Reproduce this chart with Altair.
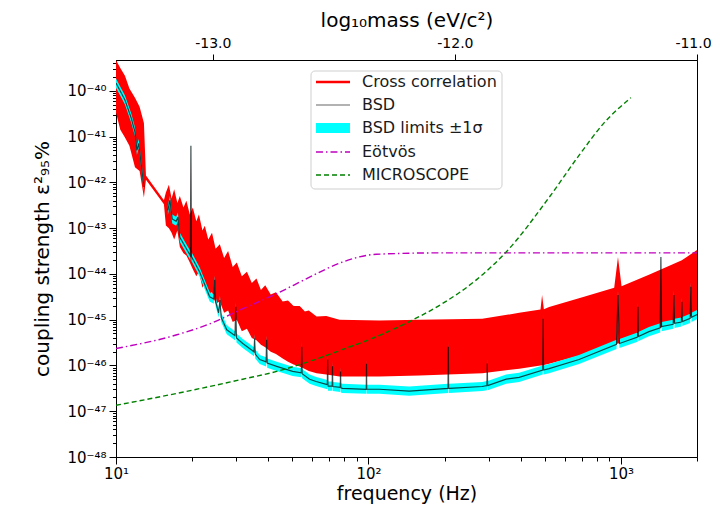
import altair as alt
import pandas as pd
import numpy as np

# ---------------- data ----------------
# Cross-correlation limit: envelope of the rapidly oscillating curve (log10 of eps^2)
red_freq = [10.0, 10.4, 10.85, 11.3, 11.89, 12.4, 12.9, 13.14, 15.48, 15.76, 16.2, 16.6, 17.0,
            17.5, 17.9, 18.5, 19.0, 19.6, 20.15, 20.8, 21.3, 22.0, 22.47, 23.2, 24.0, 24.8,
            25.77, 26.8, 27.8, 29.0, 30.09, 31.5, 33.0, 34.5, 36.0, 37.5, 39.0, 41.0, 43.0,
            45.72, 48.0, 50.5, 53.38, 56.0, 58.0, 62.31, 68.0, 76.8, 110.5, 159.1, 282.2,
            395.3, 480.0, 487.0, 495.0, 519.2, 714.0, 940.0, 973.0, 1005.0, 1290.0, 1742.0,
            2000.0]
red_upper_exp = [-39.33, -39.50, -39.67, -39.95, -40.15, -40.35, -40.70, -41.85, -42.39, -42.22,
                 -42.05, -42.35, -42.15, -42.45, -42.30, -42.55, -42.40, -42.70, -42.55, -42.85,
                 -42.70, -43.05, -42.95, -43.25, -43.10, -43.45, -43.35, -43.65, -43.50, -43.85,
                 -43.75, -44.05, -43.95, -44.20, -44.10, -44.35, -44.25, -44.45, -44.40, -44.60,
                 -44.58, -44.70, -44.70, -44.82, -44.80, -44.93, -44.92, -45.00, -45.02, -45.00,
                 -44.98, -44.85, -44.78, -44.46, -44.77, -44.72, -44.50, -44.30, -43.63, -44.27,
                 -44.02, -43.70, -43.48]
red_lower_exp = [-40.48, -40.85, -41.02, -41.20, -41.67, -41.75, -42.33, -41.94, -42.48, -42.94,
                 -43.00, -43.10, -43.25, -43.05, -43.41, -43.55, -43.60, -43.75, -43.90, -44.05,
                 -43.95, -44.30, -44.20, -44.45, -44.40, -44.65, -44.60, -44.85, -44.80, -45.05,
                 -45.00, -45.25, -45.20, -45.40, -45.45, -45.55, -45.60, -45.70, -45.75, -45.85,
                 -45.92, -45.98, -46.02, -46.08, -46.12, -46.17, -46.20, -46.24, -46.24, -46.22,
                 -46.17, -46.07, -46.00, -46.00, -45.99, -45.96, -45.76, -45.55, -45.52, -45.50,
                 -45.28, -45.00, -44.87]

# BSD limit (two segments, gap between ~13 and ~16 Hz)
bsd_freq_1 = [10.0, 10.85, 11.5, 11.89, 12.1, 12.3, 12.9]
bsd_exp_1 = [-39.83, -40.20, -40.60, -40.90, -41.30, -41.15, -42.10]
bsd_freq_2 = [16.05, 16.35, 16.7, 17.3, 17.58, 17.9, 19.0, 19.7, 19.8, 19.9, 21.45, 23.5, 24.4,
              24.6, 24.8, 25.5, 25.8, 26.1, 27.46, 29.6, 29.8, 30.0, 31.77, 35.2, 35.4, 35.6,
              37.09, 39.3, 39.5, 39.7, 43.28, 50.06, 54.2, 54.4, 54.6, 58.45, 62.0, 68.7, 68.9,
              69.1, 71.8, 72.0, 72.2, 77.3, 77.5, 77.7, 78.9, 98.0, 98.2, 98.4, 110.5, 145.0,
              206.5, 207.1, 207.7, 209.0, 282.0, 294.5, 295.4, 296.3, 351.0, 395.0, 490.0,
              491.7, 493.5, 519.0, 682.0, 960.0, 973.0, 986.0, 1163.0, 1167.0, 1171.0, 1290.0,
              1430.0, 1439.0, 1448.0, 1610.0, 1620.0, 1630.0, 1735.0, 1742.0, 1749.0, 1880.0,
              1891.0, 1902.0, 2000.0]
bsd_exp_2 = [-42.61, -42.39, -42.80, -42.85, -42.76, -43.20, -43.45, -43.60, -41.20, -43.62,
             -43.96, -44.50, -44.55, -44.13, -44.60, -44.85, -44.57, -44.95, -45.22, -45.35,
             -44.72, -45.40, -45.52, -45.70, -45.41, -45.75, -45.87, -45.92, -45.44, -45.95,
             -46.02, -46.13, -46.16, -45.59, -46.18, -46.30, -46.35, -46.42, -45.87, -46.45,
             -46.45, -46.02, -46.46, -46.48, -46.13, -46.49, -46.50, -46.52, -45.96, -46.52,
             -46.52, -46.56, -46.50, -45.59, -46.50, -46.50, -46.46, -46.44, -45.96, -46.44,
             -46.30, -46.26, -46.10, -44.98, -46.10, -46.07, -45.87, -45.54, -44.46, -45.52,
             -45.38, -44.72, -45.37, -45.26, -45.18, -43.63, -45.15, -45.10, -44.46, -45.08,
             -45.05, -44.61, -45.04, -44.97, -44.28, -44.95, -44.89]
bsd_sigma_dex = 0.1

eot_freq = [10.0, 17.42, 23.5, 31.77, 43.3, 58.45, 78.9, 107.6, 196.0, 2000.0]
eot_exp = [-45.63, -45.33, -45.09, -44.76, -44.43, -44.07, -43.74, -43.57, -43.54, -43.54]

mic_freq = [10.0, 17.42, 31.77, 43.3, 58.45, 78.9, 107.6, 145.2, 196.0, 267.3, 351.0, 519.0,
            682.0, 857.0, 1095.0]
mic_exp = [-46.87, -46.61, -46.30, -46.13, -45.91, -45.65, -45.37, -45.04, -44.65, -44.13,
           -43.52, -42.33, -41.41, -40.70, -40.15]

x_major = [10, 100, 1000]
y_exps = list(range(-48, -39))
mass_ticks = [-13.0, -12.0, -11.0]
mass_domain = [-13.40, -11.0]
x_domain = [10, 2000]
y_top_exp = -39.326

legend_labels = ["Cross correlation", "BSD", "BSD limits \u00b11\u03c3", "E\u00f6tv\u00f6s", "MICROSCOPE"]

# ---------------- tables ----------------
red_df = pd.DataFrame({"f": red_freq,
                       "hi": 10 ** np.array(red_upper_exp),
                       "lo": 10 ** np.array(red_lower_exp)})
bsd_df = pd.concat([
    pd.DataFrame({"seg": 1, "f": bsd_freq_1, "v": 10 ** np.array(bsd_exp_1)}),
    pd.DataFrame({"seg": 2, "f": bsd_freq_2, "v": 10 ** np.array(bsd_exp_2)}),
], ignore_index=True)
bsd_df["hi"] = bsd_df["v"] * 10 ** bsd_sigma_dex
bsd_df["lo"] = bsd_df["v"] / 10 ** bsd_sigma_dex
eot_df = pd.DataFrame({"f": eot_freq, "v": 10 ** np.array(eot_exp)})
mic_df = pd.DataFrame({"f": mic_freq, "v": 10 ** np.array(mic_exp)})

SUP = str.maketrans("-0123456789", "\u207b\u2070\u00b9\u00b2\u00b3\u2074\u2075\u2076\u2077\u2078\u2079")

def sup_label(e):
    return "10" + str(e).translate(SUP)

# ---------------- axes ----------------
x_tick_vals = []
for d in [10, 100, 1000]:
    for k in range(1, 10):
        v = k * d
        if v <= 2000:
            x_tick_vals.append(v)
x_label_expr = " : ".join(
    [f"datum.value == {v} ? '{sup_label(int(np.log10(v)))}'" for v in x_major]) + " : ''"
x_axis = alt.Axis(values=x_tick_vals, labelExpr=x_label_expr, title="frequency (Hz)",
                  labelFlush=False, labelOverlap=False, grid=False, labelPadding=2,
                  titlePadding=3, titleFontSize=19,
                  tickSize={"condition": {"test": "datum.value == 10 || datum.value == 100 || datum.value == 1000",
                                          "value": 7}, "value": 4})

y_tick_vals = []
for e in range(-48, -39):
    for k in range(1, 10):
        v = k * 10.0 ** e
        if np.log10(v) <= y_top_exp:
            y_tick_vals.append(float(f"{v:.6e}"))
lg = "(log(datum.value)/LN10)"
y_label_expr = " : ".join(
    [f"abs({lg} - ({e})) < 0.001 ? '{sup_label(e)}'" for e in y_exps]) + " : ''"
y_axis = alt.Axis(values=y_tick_vals, labelExpr=y_label_expr,
                  title="coupling strength \u03b5\u00b2\u2089\u2085%",
                  labelFlush=False, labelOverlap=False, grid=False, labelPadding=3,
                  titlePadding=14,
                  tickSize={"condition": {"test": f"abs({lg} - round({lg})) < 0.001", "value": 7},
                            "value": 3.5})

xs = alt.Scale(type="log", domain=x_domain, nice=False)
ys = alt.Scale(type="log", domain=[1e-48, 10 ** y_top_exp], nice=False)
X = alt.X("f:Q", scale=xs, axis=x_axis)

red = alt.Chart(red_df).mark_area(color="#ff0000", clip=True, opacity=1).encode(
    x=X, y=alt.Y("hi:Q", scale=ys, axis=y_axis), y2="lo:Q")
cyan = alt.Chart(bsd_df).mark_area(color="#00ffff", clip=True).encode(
    x=X, y=alt.Y("hi:Q", scale=ys, axis=y_axis), y2="lo:Q", detail="seg:N")
black = alt.Chart(bsd_df).mark_line(color="#000000", strokeWidth=1.2, opacity=0.7, clip=True).encode(
    x=X, y=alt.Y("v:Q", scale=ys, axis=y_axis), detail="seg:N")
eot = alt.Chart(eot_df).mark_line(color="#bf00bf", strokeWidth=1.4, strokeDash=[7, 3, 1.5, 3],
                                  interpolate="monotone", clip=True).encode(
    x=X, y=alt.Y("v:Q", scale=ys, axis=y_axis))
mic = alt.Chart(mic_df).mark_line(color="#008000", strokeWidth=1.4, strokeDash=[5, 3],
                                  interpolate="monotone", clip=True).encode(
    x=X, y=alt.Y("v:Q", scale=ys, axis=y_axis))

data_layer = alt.layer(red, cyan, black, eot, mic)

top_df = pd.DataFrame({"m": mass_ticks})
top = alt.Chart(top_df).mark_point(opacity=0).encode(
    x=alt.X("m:Q", scale=alt.Scale(domain=mass_domain, nice=False, zero=False),
            axis=alt.Axis(orient="top", values=mass_ticks, grid=False, labelFlush=False,
                          labelExpr="replace(format(datum.value, '.1f'), '\u2212', '-')",
                          labelOffset={"condition": {"test": "datum.value == -11", "value": -4},
                                       "value": 0},
                          title="log\u2081\u2080mass (eV/c\u00b2)", tickSize=6,
                          labelPadding=4, titlePadding=6, labelFontSize=14)),
    y=alt.value(0))

# ---------------- manual legend ----------------
one = pd.DataFrame({"a": [0]})
leg_box = alt.Chart(one).mark_rect(fill="white", stroke="#cccccc", cornerRadius=4, opacity=0.92).encode(
    x=alt.value(195), x2=alt.value(386), y=alt.value(11), y2=alt.value(129))
row_y = [22, 45, 68, 92, 115]
leg_red = alt.Chart(one).mark_rule(color="#ff0000", strokeWidth=2.5).encode(
    x=alt.value(200), x2=alt.value(234), y=alt.value(row_y[0]))
leg_bsd = alt.Chart(one).mark_rule(color="#000000", strokeWidth=1.2, opacity=0.6).encode(
    x=alt.value(200), x2=alt.value(234), y=alt.value(row_y[1]))
leg_cyan = alt.Chart(one).mark_rect(color="#00ffff").encode(
    x=alt.value(200), x2=alt.value(234), y=alt.value(row_y[2] - 5), y2=alt.value(row_y[2] + 5))
leg_eot = alt.Chart(one).mark_rule(color="#bf00bf", strokeWidth=1.4, strokeDash=[7, 3, 1.5, 3]).encode(
    x=alt.value(200), x2=alt.value(234), y=alt.value(row_y[3]))
leg_mic = alt.Chart(one).mark_rule(color="#008000", strokeWidth=1.4, strokeDash=[5, 3]).encode(
    x=alt.value(200), x2=alt.value(234), y=alt.value(row_y[4]))
leg_text_df = pd.DataFrame({"label": legend_labels, "yy": row_y})
leg_text = alt.Chart(leg_text_df).mark_text(align="left", baseline="middle", fontSize=16,
                                            font="DejaVu Sans", color="#1a1a1a").encode(
    x=alt.value(246), y=alt.Y("yy:Q", scale=None), text="label:N")

chart = alt.layer(data_layer, top, leg_box, leg_red, leg_bsd, leg_cyan, leg_eot, leg_mic, leg_text
).resolve_scale(x="independent").properties(
    width=581, height=397,
    autosize=alt.AutoSizeParams(type="none"),
    padding={"left": 108, "top": 52, "right": 15, "bottom": 49},
).configure_axis(
    domainColor="black", tickColor="black", labelColor="black", titleColor="black",
    labelFont="DejaVu Sans", titleFont="DejaVu Sans", labelFontSize=15, titleFontSize=20,
    titleFontWeight="normal", grid=False
).configure_view(stroke="black", strokeWidth=1)

chart.save("out.html", embed_options={"renderer": "svg", "actions": False})
